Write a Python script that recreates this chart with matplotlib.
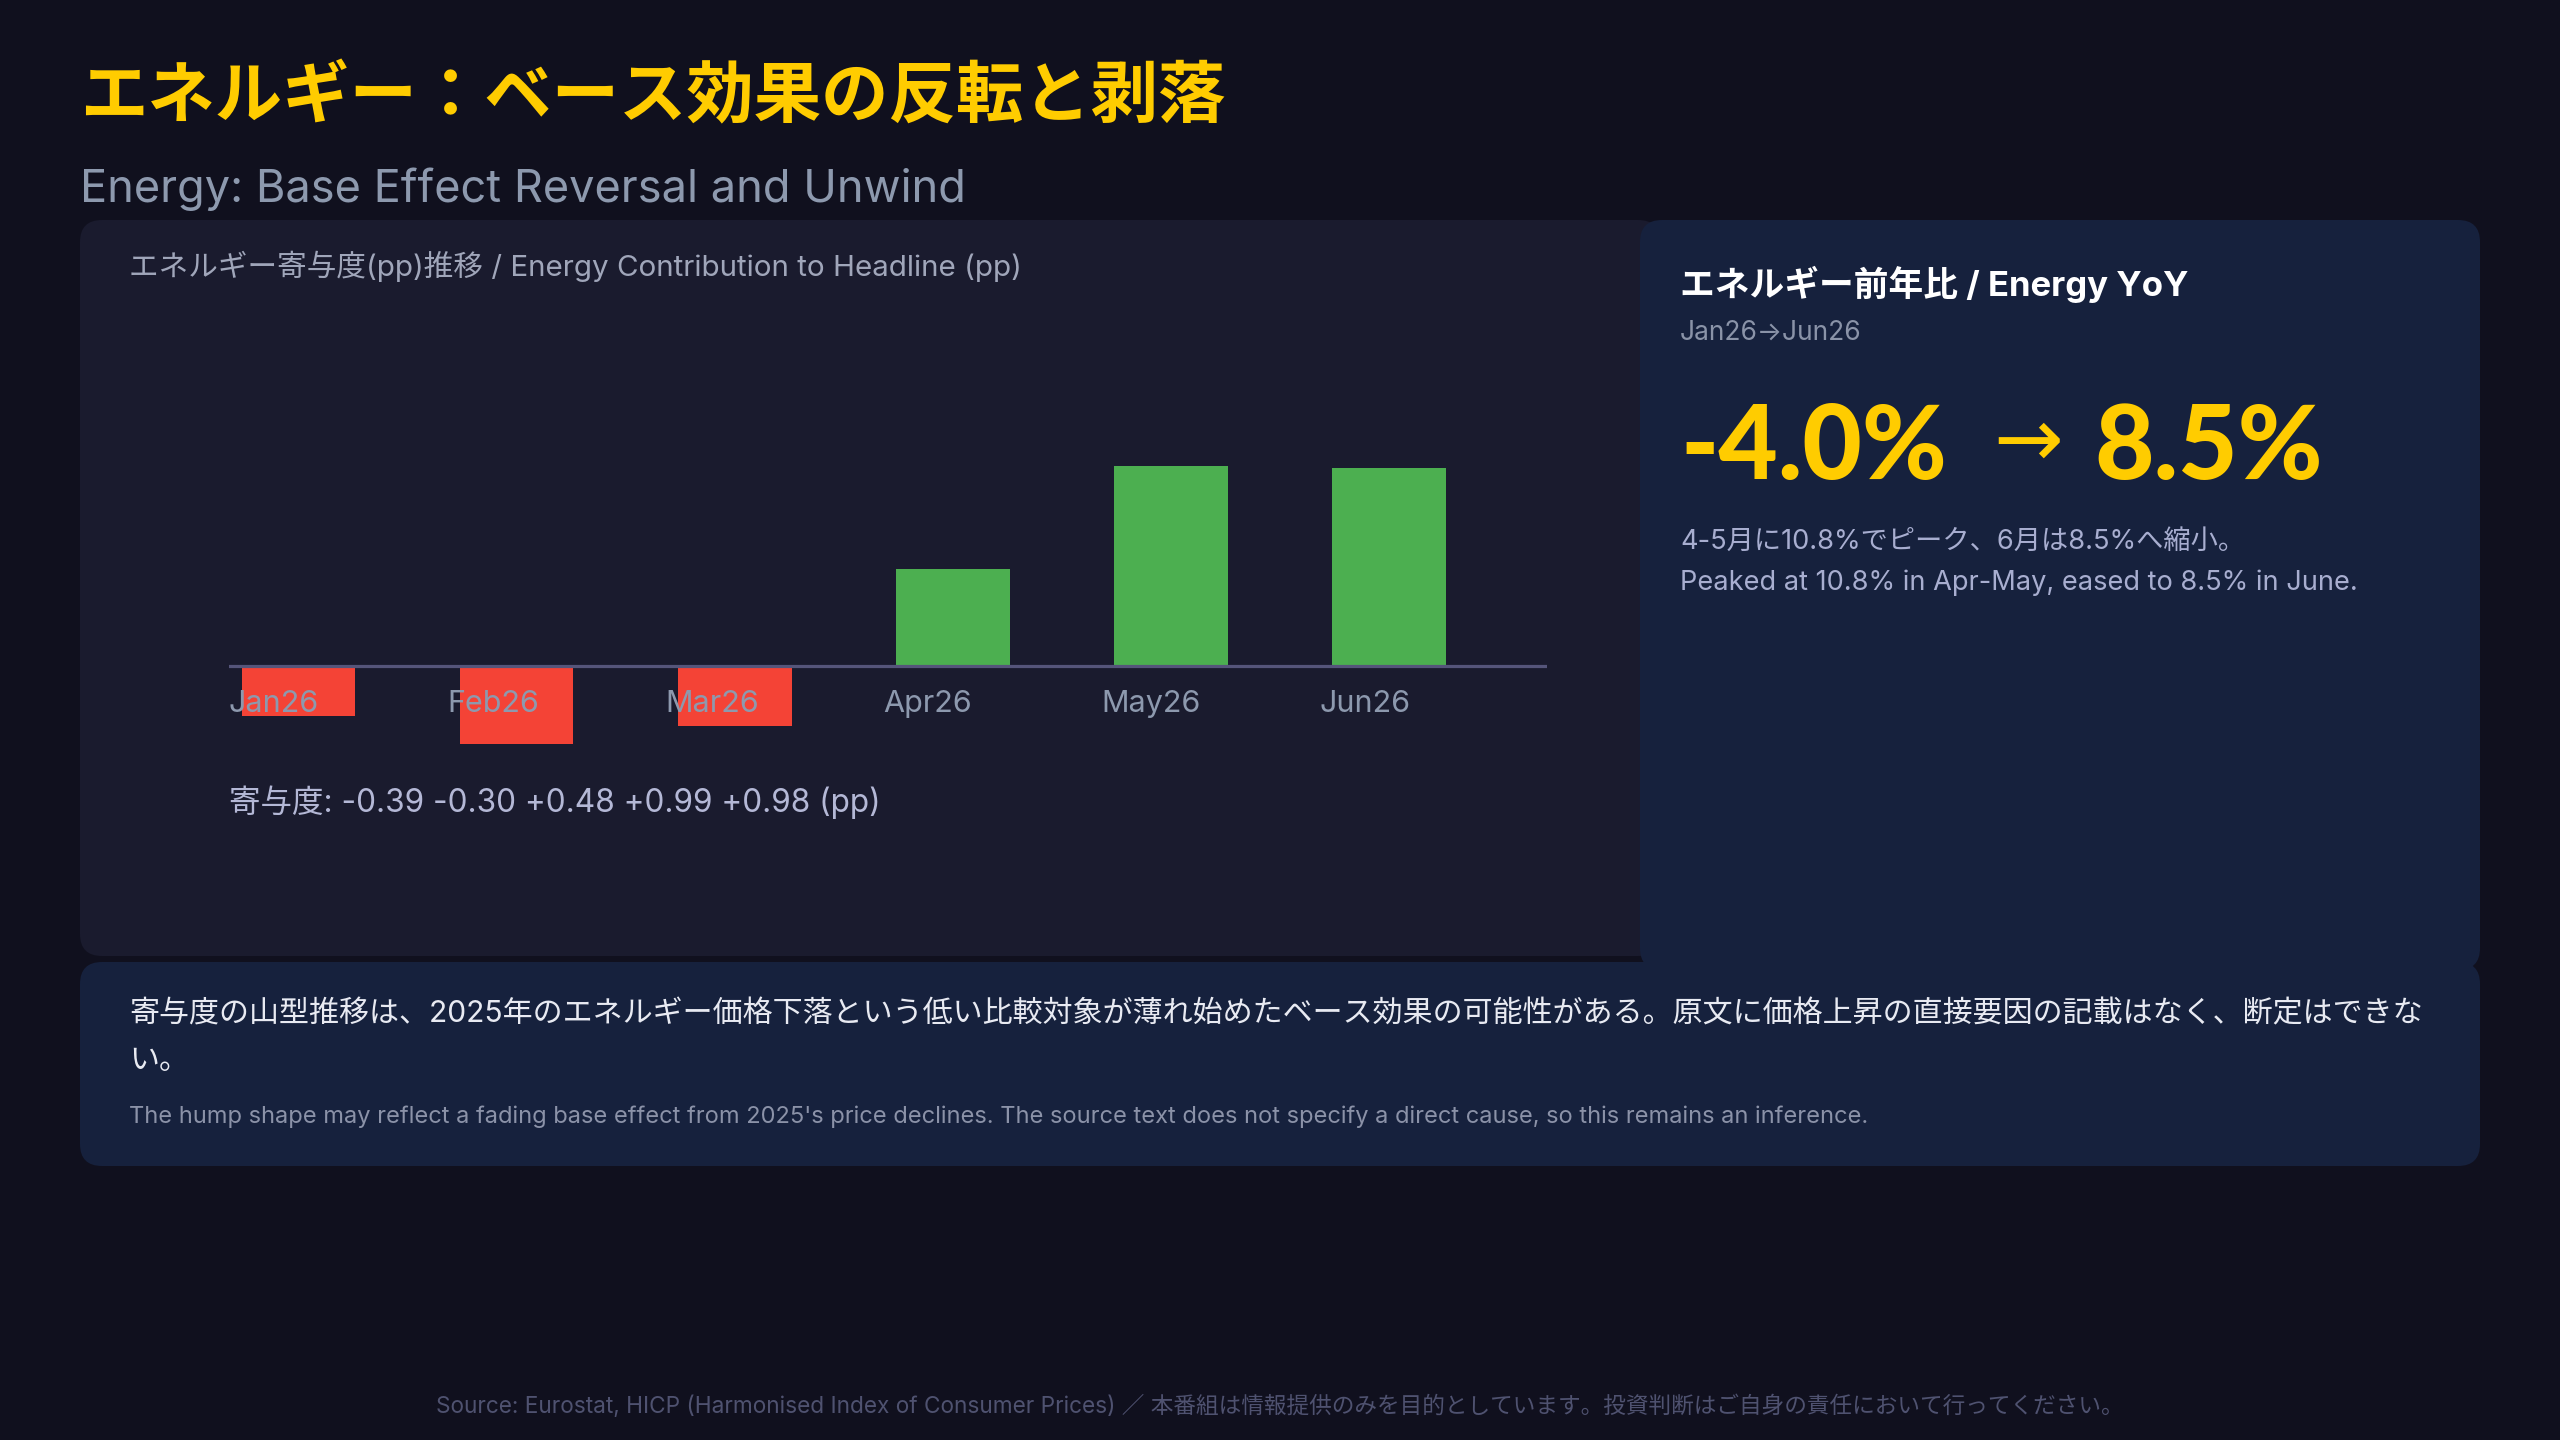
import matplotlib
matplotlib.use("Agg")
import matplotlib.pyplot as plt
from matplotlib.patches import FancyBboxPatch

# Data
months = ["Jan26", "Feb26", "Mar26", "Apr26", "May26", "Jun26"]
contrib = [-0.25, -0.39, -0.30, 0.48, 0.99, 0.98]  # pp, Jan
contrib_label = "寄与度: -0.39 -0.30 +0.48 +0.99 +0.98 (pp)"
yoy_start, yoy_end = "-4.0%", "8.5%"

title = "エネルギー：ベース効果の反転と剥落"
subtitle = "Energy: Base Effect Reversal and Unwind"
chart_title = "エネルギー寄与度(pp)推移 / Energy Contribution to Headline (pp)"
card_title = "エネルギー前年比 / Energy YoY"
card_period = "Jan26→Jun26"
card_note_jp = "4-5月に10.8%でピーク、6月は8.5%へ縮小。"
card_note_en = "Peaked at 10.8% in Apr-May, eased to 8.5% in June."
note_jp = ["寄与度の山型推移は、2025年のエネルギー価格下落という低い比較対象が薄れ始めたベース効果の可能性がある。原文に価格上昇の直接要因の記載はなく、断定はできな",
           "い。"]
note_en = "The hump shape may reflect a fading base effect from 2025's price declines. The source text does not specify a direct cause, so this remains an inference."
footer = "Source: Eurostat, HICP (Harmonised Index of Consumer Prices) ／ 本番組は情報提供のみを目的としています。投資判断はご自身の責任において行ってください。"

# Colours
BG = "#10101e"
PANEL = "#1a1b2e"
CARD = "#16213d"
YELLOW = "#ffcc00"
RED = "#f44336"
GREEN = "#4caf50"
FONT = ["Inter", "Noto Sans CJK JP", "DejaVu Sans"]
plt.rcParams["font.family"] = FONT

W, H = 2560, 1440
dpi = 100
fig = plt.figure(figsize=(W / dpi, H / dpi), dpi=dpi, facecolor=BG)

# background axes in pixel coordinates
bg = fig.add_axes([0, 0, 1, 1])
bg.set_xlim(0, W)
bg.set_ylim(H, 0)
bg.axis("off")


def panel(x0, y0, x1, y1, color):
    bg.add_patch(FancyBboxPatch((x0, y0), x1 - x0, y1 - y0,
                                boxstyle="round,pad=0,rounding_size=22",
                                facecolor=color, edgecolor="none"))


panel(80, 220, 1660, 956, PANEL)
panel(80, 962, 2480, 1166, CARD)
panel(1640, 220, 2480, 970, CARD)

bg.text(80, 98, title, fontsize=48.5, fontweight="bold", color=YELLOW, va="center",
        family=["Noto Sans CJK JP", "DejaVu Sans"])
bg.text(80, 189, subtitle, fontsize=32.5, color="#8d99ae", va="center")
bg.text(129, 266, chart_title, fontsize=21.3, color="#a0a6ba", va="center")
bg.text(229, 802, contrib_label, fontsize=22.7, color="#b4b8d6", va="center")

# right card
bg.text(1680, 284, card_title, fontsize=25, fontweight="bold", color="white", va="center")
bg.text(1680, 333, card_period, fontsize=19, color="#8a93a8", va="center")
big = dict(fontsize=74, fontweight="black", color=YELLOW, va="baseline",
           family=["Lato", "DejaVu Sans"])
bg.text(1680, 479, yoy_start, ha="left", **big)
bg.text(2028, 443, "→", fontsize=60, color=YELLOW, ha="center", va="center",
        family=["DejaVu Sans"])
bg.text(2094, 479, yoy_end, ha="left", **big)
bg.text(1680, 542, card_note_jp, fontsize=19.6, color="#a8aed0", va="center")
bg.text(1680, 583, card_note_en, fontsize=19.6, color="#a8aed0", va="center")

# bottom note
bg.text(129, 1014, note_jp[0], fontsize=21.6, color="#e8eaf2", va="center")
bg.text(129, 1061, note_jp[1], fontsize=21.6, color="#e8eaf2", va="center")
bg.text(129, 1117, note_en, fontsize=17, color="#8b92a8", va="center")

bg.text(W / 2, 1406, footer, fontsize=16.3, color="#4f5270", ha="center", va="center")

# bar chart: axes spans the baseline, 229..1547 px wide, 300..800 px tall
ax_l, ax_r, ax_t, ax_b = 229, 1547, 300, 800
ax = fig.add_axes([ax_l / W, 1 - ax_b / H, (ax_r - ax_l) / W, (ax_b - ax_t) / H])
ax.patch.set_alpha(0)
ax.axis("off")
x = list(range(len(months)))
colors = [GREEN if v >= 0 else RED for v in contrib]
ax.bar(x, contrib, width=0.52, color=colors, zorder=2)
ax.axhline(0, color="#55557a", lw=2.3, zorder=3)
for i, m in enumerate(months):
    ax.text(i - 0.32, -0.19, m, fontsize=22, color="#8d99ae",
            ha="left", va="center", zorder=4)
ax.set_xlim(-0.32, 5.725)
ax.set_ylim(-(ax_b - 665.6) / 202, (665.6 - ax_t) / 202)

fig.savefig("out.png", dpi=dpi, facecolor=BG)
